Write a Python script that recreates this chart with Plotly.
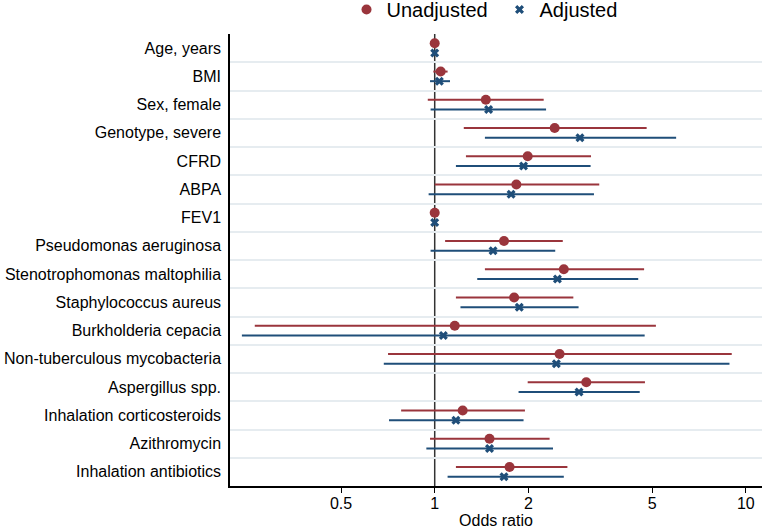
import plotly.graph_objects as go

# Data
labels = ["Age, years", "BMI", "Sex, female", "Genotype, severe", "CFRD", "ABPA", "FEV1",
          "Pseudomonas aeruginosa", "Stenotrophomonas maltophilia", "Staphylococcus aureus",
          "Burkholderia cepacia", "Non-tuberculous mycobacteria", "Aspergillus spp.",
          "Inhalation corticosteroids", "Azithromycin", "Inhalation antibiotics"]

unadj_or = [1.00, 1.045, 1.46, 2.43, 1.99, 1.83, 1.00, 1.67, 2.60, 1.80, 1.16, 2.52, 3.07, 1.23, 1.50, 1.74]
unadj_lo = [0.99, 0.99, 0.95, 1.24, 1.26, 1.00, 0.99, 1.08, 1.45, 1.17, 0.264, 0.708, 1.99, 0.78, 0.966, 1.17]
unadj_hi = [1.01, 1.10, 2.24, 4.80, 3.18, 3.38, 1.01, 2.58, 4.71, 2.79, 5.14, 9.01, 4.74, 1.95, 2.34, 2.67]

adj_or = [1.00, 1.035, 1.49, 2.93, 1.93, 1.76, 1.00, 1.54, 2.48, 1.87, 1.066, 2.46, 2.91, 1.17, 1.50, 1.67]
adj_lo = [0.99, 0.966, 0.97, 1.45, 1.17, 0.956, 0.99, 0.97, 1.37, 1.21, 0.24, 0.686, 1.86, 0.713, 0.94, 1.10]
adj_hi = [1.01, 1.12, 2.28, 5.97, 3.17, 3.25, 1.01, 2.44, 4.51, 2.90, 4.73, 8.86, 4.56, 1.93, 2.40, 2.60]

x_ticks = [0.5, 1, 2, 5, 10]

red = "#9a353c"
blue = "#1f4e79"

rows = list(range(len(labels)))

fig = go.Figure()

fig.add_trace(go.Scatter(
    x=unadj_or, y=[r - 0.17 for r in rows], mode="markers", name="Unadjusted",
    marker=dict(symbol="circle", size=10, color=red),
    error_x=dict(type="data", symmetric=False,
                 array=[h - o for h, o in zip(unadj_hi, unadj_or)],
                 arrayminus=[o - l for o, l in zip(unadj_or, unadj_lo)],
                 color=red, thickness=2, width=0),
))
fig.add_trace(go.Scatter(
    x=adj_or, y=[r + 0.17 for r in rows], mode="markers", name="Adjusted",
    marker=dict(symbol="x", size=8, color=blue),
    error_x=dict(type="data", symmetric=False,
                 array=[h - o for h, o in zip(adj_hi, adj_or)],
                 arrayminus=[o - l for o, l in zip(adj_or, adj_lo)],
                 color=blue, thickness=2, width=0),
))

# reference line at OR = 1
fig.add_shape(type="line", xref="x", yref="paper", x0=1, x1=1, y0=0, y1=1,
              line=dict(color="#333333", width=1.5), layer="below")

fig.update_layout(
    width=764, height=530,
    margin=dict(l=230, r=2, t=34, b=44, autoexpand=False),
    plot_bgcolor="white", paper_bgcolor="white",
    font=dict(family="Liberation Sans, Arial, sans-serif", size=16, color="black"),
    showlegend=True,
    legend=dict(orientation="h", x=0.219, xanchor="left", yref="container",
                y=0.982, yanchor="middle", font=dict(size=20), tracegroupgap=0,
                entrywidth=108, entrywidthmode="pixels"),
)

fig.update_xaxes(
    type="log", range=[-0.658, 1.052], automargin=False,
    tickvals=x_ticks, ticktext=[str(t) for t in x_ticks],
    ticks="outside", ticklen=5, tickcolor="black", ticklabelstandoff=-3,
    showgrid=False, showline=True, linecolor="black", linewidth=1.5,
    zeroline=False, title=dict(text="Odds ratio", font=dict(size=16), standoff=0),
)

fig.update_yaxes(
    range=[len(labels) - 0.5, -0.5], automargin=False,
    tickvals=rows, ticktext=labels, ticks="",
    showgrid=False, showline=True, linecolor="black", linewidth=1.5,
    zeroline=False, ticklabelstandoff=4,
    minor=dict(tickvals=[r + 0.5 for r in rows[:-1]], showgrid=True,
               gridcolor="#e6ecf0", gridwidth=1.5, ticks=""),
)

fig.write_html("out.html", config={"displayModeBar": False},
               post_script="document.body.style.margin='0';")
